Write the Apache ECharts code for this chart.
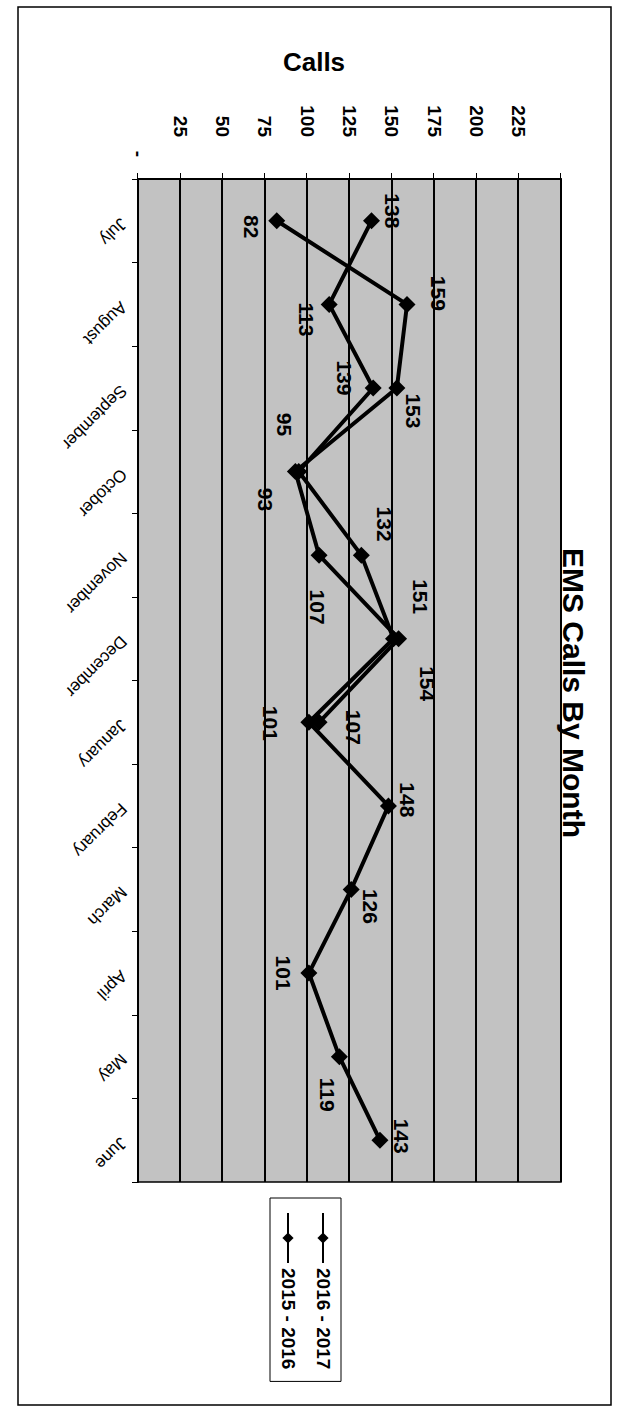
<!DOCTYPE html>
<html><head><meta charset="utf-8">
<script src="https://cdn.jsdelivr.net/npm/echarts@6/dist/echarts.min.js"></script>
<style>
html,body{margin:0;padding:0;width:628px;height:1414px;overflow:hidden;background:#fff;}
#wrap{position:absolute;left:0;top:0;width:1414px;height:628px;transform-origin:0 0;transform:translate(628px,0) rotate(90deg);}
#chart{width:1414px;height:628px;}
</style></head><body>
<div id="wrap"><div id="chart"></div></div>
<script>
// ---- data ----
const months = ['July','August','September','October','November','December','January','February','March','April','May','June'];
const calls2016_2017 = [82,159,153,93,107,154,107];
const calls2015_2016 = [138,113,139,95,132,151,101,148,126,101,119,143];
const seriesNames = ['2016 - 2017','2015 - 2016'];
const axisMin = 0, axisMax = 250, axisStep = 25;

// ---- label layout (pixel offsets of each data label from its point) ----
const labelOffsets1617 = [[6,25],[-11,-31],[23,-17],[28,30],[52,2],[45,-29],[5,-34]];
const labelOffsets1516 = [[-10,-21],[15,23],[-10,29],[-47,14],[-31,-23],[-42,-27],[1,38],[-6,-19],[17,-19],[0,25],[38,12],[-4,-22]];

const FONT = '"Liberation Sans", Arial, sans-serif';

function buildData(vals, offs){
  return vals.map((v,i)=>({value:v, label:{offset:offs[i]}}));
}
function lineSeries(name, vals, offs){
  return {
    name: name, type:'line', data: buildData(vals, offs),
    symbol:'diamond', symbolSize:17,
    lineStyle:{color:'#000', width:4},
    itemStyle:{color:'#000'},
    label:{show:true, position:'inside', color:'#000', fontSize:21, fontWeight:'bold', fontFamily:FONT, textBorderWidth:0},
    emphasis:{disabled:true},
    z: 3
  };
}

const chart = echarts.init(document.getElementById('chart'), null, {renderer:'svg'});
chart.setOption({
  animation:false,
  backgroundColor:'#fff',
  title:{text:'EMS Calls By Month', left:688, top:35, textAlign:'center',
    textStyle:{fontSize:30, fontWeight:'bold', color:'#000', fontFamily:FONT}},
  legend:{orient:'vertical', left:1198, top:287, data:seriesNames,
    borderColor:'#000', borderWidth:1, padding:[8,12,8,14],
    itemWidth:50, itemHeight:14, itemGap:15,
    textStyle:{fontSize:19, fontWeight:'bold', color:'#000', lineHeight:20, fontFamily:FONT}},
  grid:{left:179, right:232, top:67, bottom:138, show:true, backgroundColor:'#c2c2c2',
    borderColor:'#000', borderWidth:1.5, containLabel:false, outerBoundsMode:'none'},
  xAxis:{type:'category', data:months, boundaryGap:true,
    axisLine:{show:true, lineStyle:{color:'#000', width:2}},
    axisTick:{show:true, length:6, lineStyle:{color:'#000', width:1}},
    axisLabel:{rotate:-45, margin:14, interval:0, fontSize:17, color:'#000', fontFamily:FONT},
    splitLine:{show:false}},
  yAxis:{type:'value', min:axisMin, max:axisMax, interval:axisStep,
    axisLine:{show:true, lineStyle:{color:'#000', width:2}},
    axisTick:{show:true, length:6, lineStyle:{color:'#000', width:1}},
    splitLine:{show:true, lineStyle:{color:'#000', width:2}},
    axisLabel:{margin:22, color:'#000',
      formatter:function(v){ if(v===0) return '{d|-}'; if(v===axisMax) return ''; return '{n|'+v+'}'; },
      rich:{n:{fontSize:19, fontWeight:'bold', color:'#000', fontFamily:FONT, padding:[0,20,0,0]},
            d:{fontSize:19, fontWeight:'bold', color:'#000', fontFamily:FONT}}}},
  graphic:[
    {type:'rect', silent:true, shape:{x:7,y:17,width:1398,height:593}, style:{fill:'none', stroke:'#000', lineWidth:1.5}},
    {type:'text', silent:true, x:62, y:314, rotation:Math.PI/2,
      style:{text:'Calls', fontSize:26, fontWeight:'bold', fontFamily:FONT, fill:'#000', align:'center', verticalAlign:'middle'}}
  ],
  series:[
    lineSeries(seriesNames[0], calls2016_2017, labelOffsets1617),
    lineSeries(seriesNames[1], calls2015_2016, labelOffsets1516)
  ]
});
</script>
</body></html>
